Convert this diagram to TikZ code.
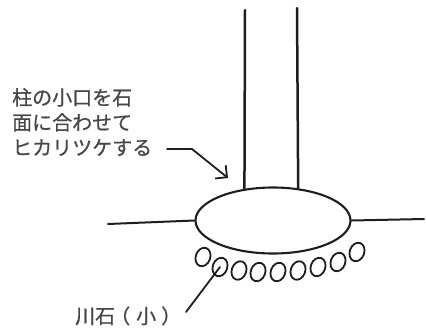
\documentclass[tikz,border=0pt]{standalone}
\usepackage{fontspec}
\newfontfamily\jp[FakeBold=0.6]{Noto Sans CJK JP}
\usetikzlibrary{shapes.geometric,arrows.meta}
\definecolor{ink}{HTML}{1E1E1E}
\definecolor{txt}{HTML}{474747}
\begin{document}
\begin{tikzpicture}[x=1pt,y=-1pt,
  ink line/.style={draw=ink,line width=2pt,line cap=round,line join=round},
  post/.style={ink line,line width=2.5pt},
  stone/.style={ellipse,draw=ink,line width=2.1pt,inner sep=0pt,
    minimum width=155pt,minimum height=66pt},
  pebble/.style={ellipse,draw=ink,line width=1.8pt,inner sep=0pt,
    minimum width=14.5pt,minimum height=19pt,rotate=-20},
  note/.style={text=txt,font=\jp\fontsize{20}{25}\selectfont,inner sep=0pt,anchor=base west},
  leader/.style={draw=ink,line width=1.8pt,line cap=round,line join=round}]
\useasboundingbox (0,0) rectangle (426,327);

% base stone
\node[stone] (stone) at (273,220.5) {};

% the two faces of the post, standing on the stone
\coordinate (postL) at (245,10);
\coordinate (postR) at (297,8);
\draw[post] (postL) -- (stone.132);
\draw[post] (postR) -- (stone.52);

% ground line
\coordinate (gl) at (108,224);
\coordinate (gr) at (424,219);
\draw[ink line] (gl) -- (stone.west);
\draw[ink line] (stone.east) -- (gr);

% small river stones packed under the base stone
\foreach \i/\x/\y in {1/203/257,2/220/267,3/239/270.5,4/258/272,5/278/272,
                      6/298/270.5,7/318/267,8/338/262,9/357/252}
  \node[pebble] (p\i) at (\x,\y) {};

% labels
\node[note] (n1) at (12,105) {柱の小口を石};
\node[note] (n2) at (12,130) {面に合わせて};
\node[note] (n3) at (12,155) {ヒカリツケする};
\node[note] (kawa) at (75,323.5) {川石\kern-5pt（\kern6pt小\kern5pt）};

% leader lines
\coordinate (a0) at (167,149);
\coordinate (a1) at (192,149);
\coordinate (atip) at (228,178);
\draw[leader,-{Straight Barb[length=8.5pt,width=17pt,line width=1.8pt]}] (a0) -- (a1) -- (atip);

\coordinate (b0) at (186,312);
\draw[leader] (b0) -- (p2.center);
\end{tikzpicture}
\end{document}
